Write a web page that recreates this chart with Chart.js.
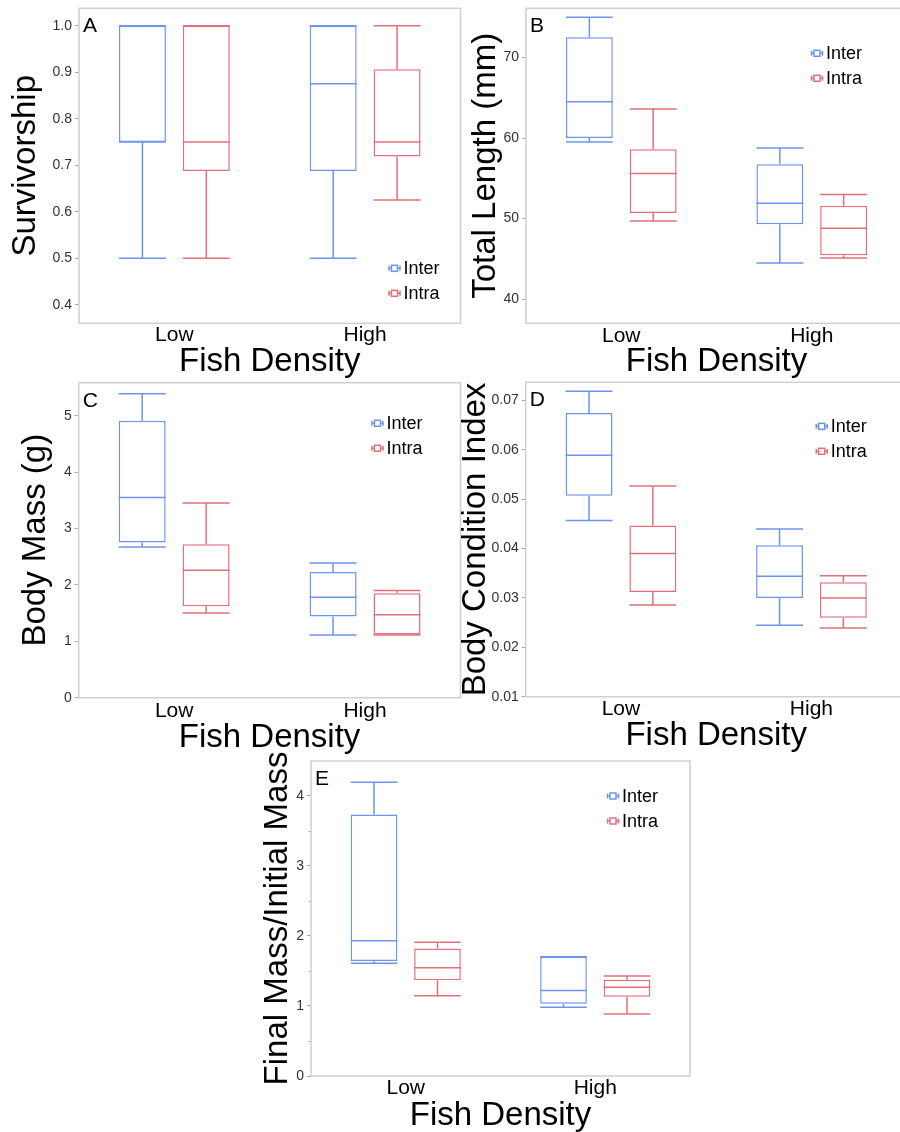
<!DOCTYPE html>
<html><head><meta charset="utf-8">
<script src="https://cdn.jsdelivr.net/npm/chart.js@4.4.0/dist/chart.umd.min.js"></script>
<style>
html,body{margin:0;padding:0;background:#fff;overflow:hidden;width:900px;height:1132px;position:relative}
canvas{position:absolute}
</style></head><body>
<canvas id="cA"></canvas><canvas id="cB"></canvas><canvas id="cC"></canvas><canvas id="cD"></canvas><canvas id="cE"></canvas>
<script>
const categories = ['Low', 'High'];
const seriesNames = ['Inter', 'Intra'];
// each entry: [min, q1, median, q3, max] for Low, High
const survivorshipInter = [[0.5, 0.75, 0.75, 1.0, 1.0], [0.5, 0.6875, 0.875, 1.0, 1.0]];
const survivorshipIntra = [[0.5, 0.6875, 0.75, 1.0, 1.0], [0.625, 0.71875, 0.75, 0.90625, 1.0]];
const lengthInter = [[59.5, 60.0, 64.5, 72.5, 75.0], [44.5, 49.3, 51.9, 56.75, 58.75]];
const lengthIntra = [[49.7, 50.7, 55.6, 58.6, 63.6], [45.1, 45.45, 48.8, 51.6, 53.0]];
const massInter = [[2.67, 2.75, 3.55, 4.91, 5.39], [1.11, 1.44, 1.78, 2.23, 2.39]];
const massIntra = [[1.50, 1.62, 2.26, 2.72, 3.45], [1.11, 1.12, 1.47, 1.85, 1.90]];
const conditionInter = [[0.0457, 0.0507, 0.0589, 0.0675, 0.0719], [0.0245, 0.0300, 0.0344, 0.0407, 0.0440]];
const conditionIntra = [[0.0286, 0.0312, 0.0390, 0.0447, 0.0527], [0.0239, 0.0260, 0.0300, 0.0332, 0.0345]];
const ratioInter = [[1.61, 1.64, 1.93, 3.73, 4.19], [0.98, 1.03, 1.22, 1.70, 1.70]];
const ratioIntra = [[1.145, 1.365, 1.545, 1.82, 1.91], [0.885, 1.13, 1.265, 1.374, 1.427]];
const survivorshipTicks = [0.4, 0.5, 0.6, 0.7, 0.8, 0.9, 1.0];
const lengthTicks = [40, 50, 60, 70];
const massTicks = [0, 1, 2, 3, 4, 5];
const conditionTicks = [0.01, 0.02, 0.03, 0.04, 0.05, 0.06, 0.07];
const ratioTicks = [0, 1, 2, 3, 4];
const ratioMinorTicks = [0.5, 1.5, 2.5, 3.5];

const BLUE = 'rgb(108,150,234)';
const RED = 'rgb(226,112,122)';
const FONT = "'Liberation Sans', Arial, Helvetica, sans-serif";
const TITLE_SIZE = 33;

const boxPlugin = {
  id: 'boxWhisker',
  afterDatasetsDraw(chart) {
    const ctx = chart.ctx, y = chart.scales.y;
    chart.data.datasets.forEach((ds, di) => {
      const meta = chart.getDatasetMeta(di);
      meta.data.forEach((bar, i) => {
        const s = ds.stats[i];
        const half = bar.width / 2, x = bar.x;
        const py = v => y.getPixelForValue(v);
        ctx.save();
        ctx.strokeStyle = ds.borderColor;
        ctx.lineWidth = 1.5;
        ctx.beginPath();
        ctx.moveTo(x, py(s[3])); ctx.lineTo(x, py(s[4]));
        ctx.moveTo(x, py(s[1])); ctx.lineTo(x, py(s[0]));
        ctx.moveTo(x - half, py(s[4])); ctx.lineTo(x + half, py(s[4]));
        ctx.moveTo(x - half, py(s[0])); ctx.lineTo(x + half, py(s[0]));
        ctx.moveTo(x - half, py(s[2])); ctx.lineTo(x + half, py(s[2]));
        ctx.stroke();
        ctx.restore();
      });
    });
  }
};

const decorPlugin = {
  id: 'decor',
  afterDraw(chart) {
    const o = chart.options.plugins.decor;
    const ctx = chart.ctx, a = chart.chartArea;
    ctx.save();
    ctx.strokeStyle = '#cfcfcf';
    ctx.lineWidth = 1.5;
    ctx.strokeRect(a.left, a.top, a.right - a.left, a.bottom - a.top);
    if (o.minor && o.minor.length) {
      ctx.strokeStyle = '#b0b0b0'; ctx.lineWidth = 1;
      ctx.beginPath();
      o.minor.forEach(v => {
        const py = Math.round(chart.scales.y.getPixelForValue(v)) + 0.5;
        ctx.moveTo(a.left - 2.5, py); ctx.lineTo(a.left, py);
      });
      ctx.stroke();
    }
    ctx.fillStyle = '#000';
    ctx.font = '21px ' + FONT;
    ctx.textAlign = 'left'; ctx.textBaseline = 'alphabetic';
    ctx.fillText(o.letter, a.left + 4, a.top + 24);
    const lx = a.right - o.legendRight;
    const ly = o.legendFromBottom ? a.bottom - o.legendOffset : a.top + o.legendOffset;
    chart.data.datasets.forEach((ds, i) => {
      const cy = ly + i * 25, cx = lx;
      ctx.strokeStyle = ds.borderColor; ctx.lineWidth = 1.5;
      ctx.beginPath();
      ctx.moveTo(cx - 5.5, cy); ctx.lineTo(cx - 3, cy);
      ctx.moveTo(cx + 3, cy); ctx.lineTo(cx + 5.5, cy);
      ctx.moveTo(cx - 5.5, cy - 2.5); ctx.lineTo(cx - 5.5, cy + 2.5);
      ctx.moveTo(cx + 5.5, cy - 2.5); ctx.lineTo(cx + 5.5, cy + 2.5);
      ctx.stroke();
      ctx.strokeRect(cx - 3, cy - 3, 6, 6);
      ctx.fillStyle = '#000';
      ctx.font = '18px ' + FONT;
      ctx.textBaseline = 'middle';
      ctx.fillText(ds.label, cx + 9, cy + 1);
    });
    ctx.restore();
  }
};

function makePanel(id, g) {
  const pad = 14, tp = 4;
  const left = Math.round(g.yTitleX - TITLE_SIZE / 2 - tp);
  const top = Math.round(g.T - pad);
  const bottom = Math.round(g.xTitleY + TITLE_SIZE / 2 + tp);
  const right = Math.round(g.R + pad);
  const W = right - left, H = bottom - top;
  const padTop = g.T - top, padRight = right - g.R;
  const yW = g.L - left, xH = bottom - g.B;
  const cv = document.getElementById(id);
  cv.width = W; cv.height = H;
  cv.style.left = left + 'px'; cv.style.top = top + 'px';
  cv.style.width = W + 'px'; cv.style.height = H + 'px';
  new Chart(cv, {
    type: 'bar',
    data: {
      labels: categories,
      datasets: [
        { label: seriesNames[0], stats: g.inter, data: g.inter.map(s => [s[1], s[3]]),
          backgroundColor: '#ffffff', borderColor: BLUE, borderWidth: 1.5, borderSkipped: false },
        { label: seriesNames[1], stats: g.intra, data: g.intra.map(s => [s[1], s[3]]),
          backgroundColor: '#ffffff', borderColor: RED, borderWidth: 1.5, borderSkipped: false }
      ]
    },
    options: {
      responsive: false, animation: false, events: [],
      devicePixelRatio: 1,
      layout: { padding: { top: padTop, right: padRight, left: 0, bottom: 0 } },
      categoryPercentage: 0.67, barPercentage: 0.735,
      plugins: {
        legend: { display: false }, tooltip: { enabled: false },
        decor: { letter: g.letter, minor: g.minor || [], legendRight: g.legendRight,
                 legendOffset: g.legendOffset, legendFromBottom: !!g.legendFromBottom }
      },
      scales: {
        x: {
          grid: { display: false, drawTicks: false }, border: { display: false },
          ticks: { color: '#000', padding: g.xTickY - g.B - 10.5, font: { family: FONT, size: 21, lineHeight: 1 } },
          title: { display: true, text: 'Fish Density', color: '#000', padding: { top: 0, bottom: tp },
                   font: { family: FONT, size: TITLE_SIZE, lineHeight: 1 } },
          afterFit: s => { s.height = xH; }
        },
        y: {
          min: g.min, max: g.max,
          grid: { drawOnChartArea: false, drawTicks: true, tickLength: 4, tickColor: '#aaaaaa' },
          border: { display: false },
          afterBuildTicks: s => { s.ticks = g.ticks.map(v => ({ value: v })); },
          ticks: { color: '#333', padding: 3, font: { family: FONT, size: 14 },
                   callback: v => g.fmt(v) },
          title: { display: true, text: g.yTitle, color: '#000', padding: { top: tp, bottom: 0 },
                   font: { family: FONT, size: TITLE_SIZE, lineHeight: 1 } },
          afterFit: s => { s.width = yW; }
        }
      }
    },
    plugins: [boxPlugin, decorPlugin]
  });
}

makePanel('cA', { L: 79, T: 8.3, R: 460.5, B: 323.3, yTitleX: 25, xTickY: 335.7, xTitleY: 361.6,
  min: 0.36, max: 1.0375, ticks: survivorshipTicks, fmt: v => v.toFixed(1), yTitle: 'Survivorship',
  inter: survivorshipInter, intra: survivorshipIntra, letter: 'A',
  legendRight: 66, legendOffset: 55, legendFromBottom: true });
makePanel('cB', { L: 526, T: 8.3, R: 907, B: 323.3, yTitleX: 485, xTickY: 336, xTitleY: 361.6,
  min: 37.0, max: 76.1, ticks: lengthTicks, fmt: v => String(v), yTitle: 'Total Length (mm)',
  inter: lengthInter, intra: lengthIntra, letter: 'B',
  legendRight: 90, legendOffset: 45 });
makePanel('cC', { L: 78.7, T: 382.7, R: 460.5, B: 697.7, yTitleX: 35, xTickY: 711, xTitleY: 737.2,
  min: 0, max: 5.585, ticks: massTicks, fmt: v => String(v), yTitle: 'Body Mass (g)',
  inter: massInter, intra: massIntra, letter: 'C',
  legendRight: 83, legendOffset: 40.6 });
makePanel('cD', { L: 525.7, T: 382.3, R: 906.7, B: 696.7, yTitleX: 475, xTickY: 709.4, xTitleY: 735.6,
  min: 0.01, max: 0.0737, ticks: conditionTicks, fmt: v => v.toFixed(2), yTitle: 'Body Condition Index',
  inter: conditionInter, intra: conditionIntra, letter: 'D',
  legendRight: 85, legendOffset: 44 });
makePanel('cE', { L: 311, T: 761, R: 690, B: 1076, yTitleX: 277.6, xTickY: 1088.7, xTitleY: 1115.6,
  min: 0, max: 4.495, ticks: ratioTicks, fmt: v => String(v), yTitle: 'Final Mass/Initial Mass',
  inter: ratioInter, intra: ratioIntra, letter: 'E', minor: ratioMinorTicks,
  legendRight: 77, legendOffset: 35 });
</script>
</body></html>
